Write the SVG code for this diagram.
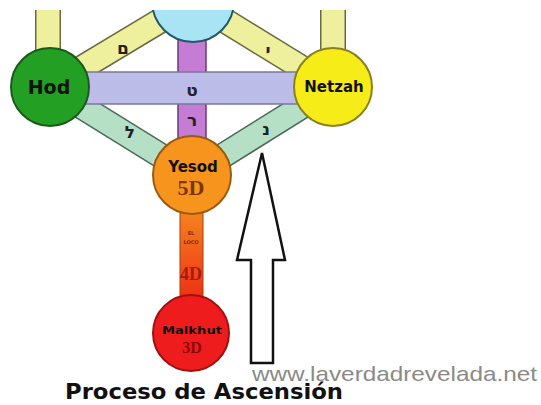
<svg xmlns="http://www.w3.org/2000/svg" width="541" height="405" viewBox="0 0 541 405">
<defs>
<linearGradient id="col" x1="0" y1="0" x2="0" y2="1">
<stop offset="0" stop-color="#f58a1e"/>
<stop offset="1" stop-color="#ee2a14"/>
</linearGradient>
</defs>
<style>
.edge{fill:none;stroke-linecap:butt}
.yo{stroke:#6a6a40;stroke-width:26}
.yi{stroke:#eef09e;stroke-width:23}
.go{stroke:#4a6a5a;stroke-width:26}
.gi{stroke:#b6e0c6;stroke-width:23}
.heb{font-family:"DejaVu Sans",sans-serif;font-size:17px;font-weight:bold;fill:#222;text-anchor:middle}
.lbl{font-family:"DejaVu Sans",sans-serif;font-weight:bold;text-anchor:middle;fill:#111}
.dim{font-family:"Liberation Serif",serif;font-weight:bold;text-anchor:middle}
</style>
<rect width="541" height="405" fill="#fff"/>
<g id="connectors">
<line class="edge yo" x1="48" y1="10" x2="48" y2="55"/>
<line class="edge yi" x1="48" y1="8" x2="48" y2="55"/>
<line class="edge yo" x1="333" y1="10" x2="333" y2="55"/>
<line class="edge yi" x1="333" y1="8" x2="333" y2="55"/>
<line class="edge yo" x1="193" y1="1" x2="50" y2="87"/>
<line class="edge yi" x1="193" y1="1" x2="50" y2="87"/>
<line class="edge yo" x1="193" y1="1" x2="333" y2="87"/>
<line class="edge yi" x1="193" y1="1" x2="333" y2="87"/>
<line class="edge go" x1="50" y1="87" x2="192" y2="175"/>
<line class="edge gi" x1="50" y1="87" x2="192" y2="175"/>
<line class="edge go" x1="333" y1="87" x2="192" y2="175"/>
<line class="edge gi" x1="333" y1="87" x2="192" y2="175"/>
<rect x="178" y="5" width="28" height="140" fill="#c47cd4" stroke="#6a3a7a" stroke-width="1.5"/>
<rect x="85" y="72" width="213" height="32" fill="#bcbce8" stroke="#7a7a98" stroke-width="1.5"/>
<rect x="180" y="205" width="23" height="100" fill="url(#col)" stroke="#a04010" stroke-width="1"/>
<text class="heb" x="123" y="54">ם</text>
<text class="heb" x="268" y="56">י</text>
<text class="heb" x="192" y="96">ט</text>
<text class="heb" x="192" y="126">ר</text>
<text class="heb" x="130" y="138">ל</text>
<text class="heb" x="266" y="135">נ</text>
<text x="191" y="235" font-family="DejaVu Sans,sans-serif" font-size="5" font-weight="bold" fill="#8a2a10" text-anchor="middle">EL</text>
<text x="191" y="244" font-family="DejaVu Sans,sans-serif" font-size="5" font-weight="bold" fill="#8a2a10" text-anchor="middle">LOCO</text>
<text class="dim" x="191" y="280" font-size="18" fill="#a81a10">4D</text>
</g>
<g id="tiphareth">
<circle cx="193" cy="1" r="41" fill="#a8e4f4" stroke="#24566a" stroke-width="2"/>
</g>
<rect x="0" y="0" width="541" height="10" fill="#fff"/>
<g id="hod">
<circle cx="50" cy="87" r="39" fill="#23a023" stroke="#1a5a1a" stroke-width="2"/>
<text class="lbl" x="49" y="94" font-size="19">Hod</text>
</g>
<g id="netzah">
<circle cx="333" cy="87" r="39" fill="#f6ec18" stroke="#8a8020" stroke-width="2"/>
<text class="lbl" x="334" y="92" font-size="15">Netzah</text>
</g>
<g id="yesod">
<circle cx="192" cy="175" r="39" fill="#f7941e" stroke="#9a5a10" stroke-width="2"/>
<text class="lbl" x="193" y="172" font-size="15" fill="#3a1a00">Yesod</text>
<text class="dim" x="191" y="195" font-size="22" fill="#7a3800">5D</text>
</g>
<g id="malkhut">
<circle cx="191" cy="333" r="38" fill="#ee1c1c" stroke="#a01010" stroke-width="2"/>
<text class="lbl" x="192" y="334" font-size="11" fill="#300" textLength="60" lengthAdjust="spacingAndGlyphs">Malkhut</text>
<text class="dim" x="192" y="353" font-size="16" fill="#8a0a0a">3D</text>
</g>
<g id="arrow">
<polygon points="262,153 285,260 273,260 273,363 251,363 251,260 237,260" fill="#fff" stroke="#111" stroke-width="2.5" stroke-linejoin="miter"/>
</g>
<text x="252" y="381" font-family="Liberation Sans,sans-serif" font-size="21" fill="#8a8a8a" textLength="285" lengthAdjust="spacingAndGlyphs">www.laverdadrevelada.net</text>
<text x="65" y="399" font-family="DejaVu Sans,sans-serif" font-weight="bold" font-size="21" fill="#111" textLength="278" lengthAdjust="spacingAndGlyphs">Proceso de Ascensión</text>
</svg>
